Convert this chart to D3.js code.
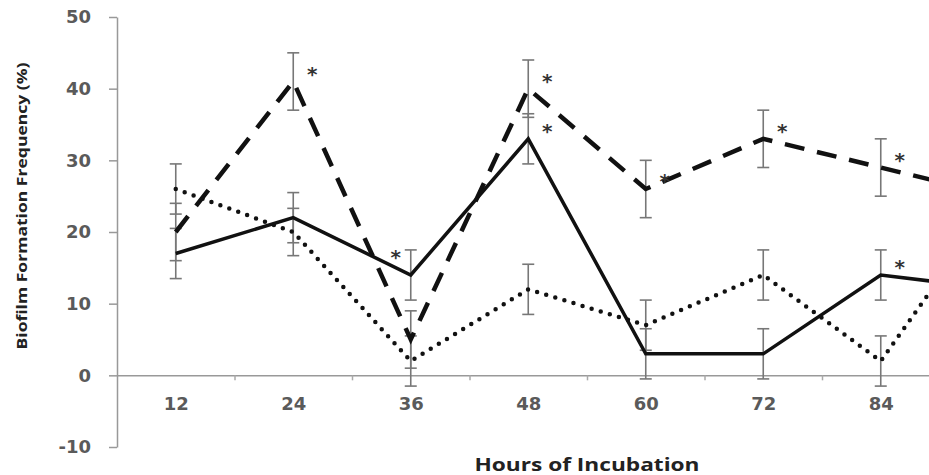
<!DOCTYPE html>
<html lang="en">
<head>
    <meta charset="UTF-8">
    <title>Biofilm</title>
    <style>
        body { margin: 0; background: #fff; }
        svg { display: block; }
    </style>
</head>
<body>
<script src="https://d3js.org/d3.v7.min.js"></script>
<script>
    // values (96 h point is cut off at the right edge)
    let hours = [12, 24, 36, 48, 60, 72, 84, 96];
    let dashedVals = [20, 41, 5, 40, 26, 33, 29, 25];
    let dashedErr = [4, 4, 4, 4, 4, 4, 4, 4];
    let solidVals = [17, 22, 14, 33, 3, 3, 14, 12];
    let solidErr = [3.5, 3.5, 3.5, 3.5, 3.5, 3.5, 3.5, 3.5];
    let dottedVals = [26, 20, 2, 12, 7, 14, 2, 25];
    let dottedErr = [3.5, 3.3, 3.5, 3.5, 3.5, 3.5, 3.5, 3.5];
    let xTicks = [12, 24, 36, 48, 60, 72, 84];
    let yTicks = [-10, 0, 10, 20, 30, 40, 50];
    let stars = [
        { s: 'dashed', h: 24 }, { s: 'dashed', h: 48 }, { s: 'solid', h: 48 },
        { s: 'dashed', h: 60 }, { s: 'dashed', h: 72 }, { s: 'dashed', h: 84 },
        { s: 'solid', h: 84 }, { s: 'solid', h: 36, left: true }
    ];

    let width = 929;
    let height = 475;

    let series = [
        { name: 'dotted', vals: dottedVals, err: dottedErr, dash: '0,9.5', w: 4.5 },
        { name: 'dashed', vals: dashedVals, err: dashedErr, dash: '20,13', w: 4.5 },
        { name: 'solid', vals: solidVals, err: solidErr, dash: null, w: 3.5 }
    ];

    let xScale = d3.scaleLinear().domain([6, 102]).range([117, 1057]);
    let yScale = d3.scaleLinear().domain([-10, 50]).range([447, 17]);

    let svg = d3.select('body').append('svg')
        .attr('width', width)
        .attr('height', height);

    let tickFont = 'bold 18px "DejaVu Sans"';

    // y axis
    let yAxis = d3.axisLeft(yScale).tickValues(yTicks).tickSize(8).tickSizeOuter(0)
        .tickPadding(18).tickFormat(d => String(d));
    let gy = svg.append('g').attr('transform', 'translate(' + xScale(6) + ',0)').call(yAxis);
    gy.select('.domain').attr('stroke', '#999').attr('stroke-width', 1.5);
    gy.selectAll('.tick line').attr('stroke', '#999').attr('stroke-width', 1.5);
    gy.selectAll('.tick text')
        .attr('fill', '#5a5a5a')
        .style('font', tickFont);

    // x axis at y = 0: labels at centres, small ticks between categories
    let gx = svg.append('g').attr('transform', 'translate(0,' + yScale(0) + ')');
    gx.call(d3.axisBottom(xScale).tickValues(xTicks).tickSize(0).tickPadding(22).tickSizeOuter(0));
    gx.select('.domain').attr('stroke', '#999').attr('stroke-width', 1.5);
    gx.selectAll('.tick text')
        .attr('fill', '#5a5a5a')
        .style('font', tickFont);
    let gx2 = svg.append('g').attr('transform', 'translate(0,' + yScale(0) + ')');
    gx2.call(d3.axisBottom(xScale).tickValues(xTicks.map(h => h + 6)).tickSize(5).tickFormat(''));
    gx2.select('.domain').remove();
    gx2.selectAll('.tick line').attr('stroke', '#aaa').attr('stroke-width', 1.5);

    // error bars
    series.forEach(s => {
        let g = svg.append('g').attr('stroke', '#777').attr('stroke-width', 1.6);
        hours.forEach((h, i) => {
            let x = xScale(h);
            let y1 = yScale(s.vals[i] + s.err[i]);
            let y2 = yScale(s.vals[i] - s.err[i]);
            g.append('line').attr('x1', x).attr('x2', x).attr('y1', y1).attr('y2', y2);
            g.append('line').attr('x1', x - 6).attr('x2', x + 6).attr('y1', y1).attr('y2', y1);
            g.append('line').attr('x1', x - 6).attr('x2', x + 6).attr('y1', y2).attr('y2', y2);
        });
    });

    // lines
    let line = d3.line().x((d, i) => xScale(hours[i])).y(d => yScale(d));
    series.forEach(s => {
        svg.append('path')
            .attr('d', line(s.vals))
            .attr('fill', 'none')
            .attr('stroke', '#111')
            .attr('stroke-width', s.w)
            .attr('stroke-linecap', s.name === 'dotted' ? 'round' : 'butt')
            .attr('stroke-linejoin', 'miter')
            .attr('stroke-dasharray', s.dash);
    });

    // significance stars
    stars.forEach(st => {
        let s = series.find(d => d.name === st.s);
        let i = hours.indexOf(st.h);
        let x = xScale(st.h) + (st.left ? -15 : 19);
        let y = yScale(s.vals[i]) - (st.left ? 22 : 12);
        svg.append('text')
            .attr('x', x)
            .attr('y', y + 11)
            .attr('text-anchor', 'middle')
            .attr('fill', '#333')
            .style('font', 'bold 20px "DejaVu Sans"')
            .text('*');
    });

    // axis titles
    svg.append('text')
        .attr('transform', 'translate(27,206) rotate(-90)')
        .attr('text-anchor', 'middle')
        .attr('fill', '#222')
        .attr('textLength', 287)
        .attr('lengthAdjust', 'spacingAndGlyphs')
        .style('font', 'bold 15px "Open Sans"')
        .text('Biofilm Formation Frequency (%)');

    svg.append('text')
        .attr('x', 587)
        .attr('y', 471)
        .attr('text-anchor', 'middle')
        .attr('fill', '#222')
        .attr('textLength', 225)
        .attr('lengthAdjust', 'spacingAndGlyphs')
        .style('font', 'bold 18px "Open Sans"')
        .text('Hours of Incubation');
</script>
</body>
</html>
